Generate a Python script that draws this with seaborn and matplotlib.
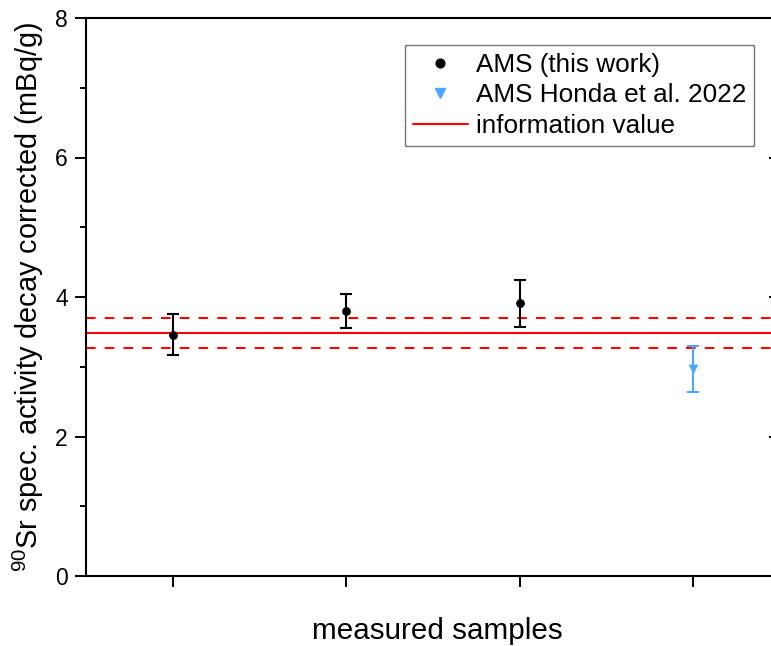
import numpy as np
import pandas as pd
import matplotlib
matplotlib.use("Agg")
import matplotlib.pyplot as plt
from matplotlib.lines import Line2D
from matplotlib.ticker import MultipleLocator
import seaborn as sns

# data
ams_x = [1, 2, 3]
ams_val = [3.46, 3.80, 3.91]
ams_err = [0.295, 0.24, 0.335]
honda_x = [4]
honda_val = [2.97]
honda_err = [0.33]
info_value = 3.485
info_unc = 0.215

sns.set_style("white")
plt.rcParams['font.family'] = ['Liberation Sans', 'DejaVu Sans']
plt.rcParams['mathtext.fontset'] = 'custom'
plt.rcParams['mathtext.rm'] = 'Liberation Sans'
for k in ['text.color', 'axes.labelcolor', 'xtick.color', 'ytick.color']:
    plt.rcParams[k] = 'black'

fig = plt.figure(figsize=(7.71, 6.46), dpi=100)
ax = fig.add_axes([86/771, 1-576/646, (780-86)/771, (576-18)/646])

df_ams = pd.DataFrame({"x": ams_x, "y": ams_val})
df_h = pd.DataFrame({"x": honda_x, "y": honda_val})

red = "#ff0000"
blue = "#4da6ff"
ax.axhline(info_value, color=red, lw=1.5, zorder=1)
ax.axhline(info_value + info_unc, color=red, lw=1.5, ls=(0, (4.6, 4.4)), zorder=1)
ax.axhline(info_value - info_unc, color=red, lw=1.5, ls=(0, (4.6, 4.4)), zorder=1)

ax.errorbar(ams_x, ams_val, yerr=ams_err, fmt='none', ecolor='black',
            elinewidth=1.5, capsize=4.5, capthick=1.5, zorder=2)
ax.errorbar(honda_x, honda_val, yerr=honda_err, fmt='none', ecolor=blue,
            elinewidth=1.5, capsize=4.5, capthick=1.5, zorder=2)
sns.scatterplot(data=df_ams, x="x", y="y", ax=ax, marker='o', color='black',
                s=40, edgecolor='black', linewidth=0, zorder=3, legend=False)
sns.scatterplot(data=df_h, x="x", y="y", ax=ax, marker='v', color=blue,
                s=50, edgecolor=blue, linewidth=0, zorder=3, legend=False)

ax.set_xlim(0.5, 4.5)
ax.set_ylim(0, 8)
ax.set_xticks([1, 2, 3, 4])
ax.set_xticklabels([])
ax.yaxis.set_major_locator(MultipleLocator(2))
ax.yaxis.set_minor_locator(MultipleLocator(1))
ax.tick_params(axis='y', which='major', direction='out', length=8, width=1.4,
               labelsize=16.5, left=True, right=True, pad=5)
ax.tick_params(axis='y', which='minor', direction='out', length=4, width=1.4, left=True)
ax.tick_params(axis='x', which='major', direction='out', length=8, width=1.4, bottom=True)
for t in ax.yaxis.get_major_ticks():
    t.tick2line.set_marker(matplotlib.lines.TICKLEFT)
    t.tick2line.set_markersize(8)
for s in ax.spines.values():
    s.set_linewidth(1.5)
    s.set_color('black')

ax.set_xlabel("measured samples", fontsize=21.3, labelpad=18)
ax.xaxis.label.set_x((437-86)/694)
ax.set_ylabel(r"$^{90}$Sr spec. activity decay corrected (mBq/g)", fontsize=20.8, labelpad=6.5)

handles = [
    Line2D([], [], marker='o', color='black', ls='none', markersize=6.3),
    Line2D([], [], marker='v', color=blue, ls='none', markersize=7),
    Line2D([], [], color=red, lw=1.5),
]
labels = ["AMS (this work)", "AMS Honda et al. 2022", "information value"]
leg = ax.legend(handles, labels, loc='upper left', bbox_to_anchor=((405-86)/694, (576-45)/558),
                fontsize=18.8, frameon=True, fancybox=False, edgecolor='#555555',
                handlelength=2.1, handletextpad=0.3, borderpad=0.3, labelspacing=0.25,
                borderaxespad=0)
leg.get_frame().set_linewidth(1.0)

fig.savefig("out.png", dpi=100)
